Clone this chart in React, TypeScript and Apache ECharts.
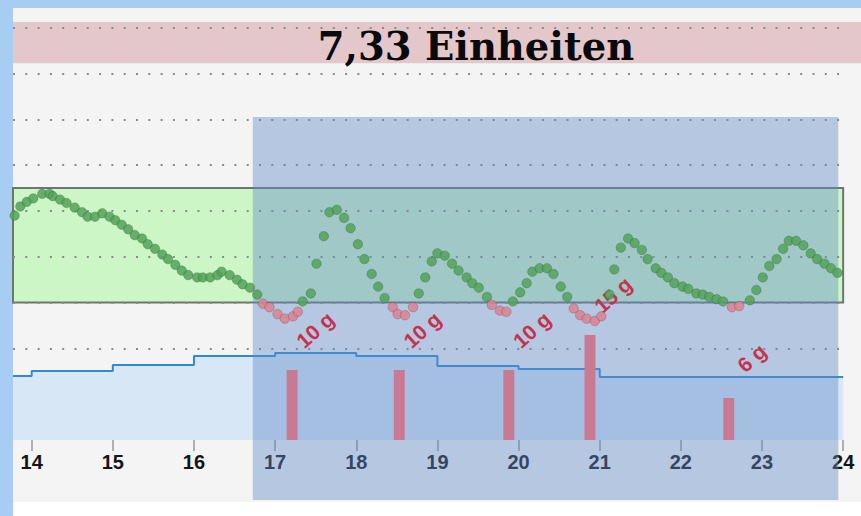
import React, { useEffect, useRef } from "react";
import * as echarts from "echarts";

const TITLE = "7,33 Einheiten";
const HOUR_TICKS = [14, 15, 16, 17, 18, 19, 20, 21, 22, 23, 24];
const X_MIN = 13.77;
const X_MAX = 24.22;
const X_END = 24;

// glucose (mg/dL-like units, 40 per dotted grid line)
const GLUCOSE_TIMES = [
  13.79, 13.86, 13.94, 14.02, 14.13, 14.22, 14.26, 14.35, 14.43, 14.53, 14.62, 14.69, 14.78, 14.87, 14.96,
  15.03, 15.11, 15.19, 15.27, 15.36, 15.43, 15.52, 15.61, 15.68, 15.77, 15.85, 15.93,
  16.04, 16.11, 16.2, 16.29, 16.34, 16.44, 16.53, 16.6, 16.69, 16.78, 16.85, 16.93,
  17.03, 17.12, 17.22, 17.28, 17.34, 17.44, 17.51, 17.6, 17.67, 17.76, 17.85, 17.93,
  18.02, 18.1, 18.19, 18.27, 18.35, 18.45, 18.51, 18.6, 18.7, 18.77, 18.85, 18.93,
  19.0, 19.09, 19.18, 19.26, 19.36, 19.43, 19.51, 19.61, 19.67, 19.77, 19.85, 19.93,
  20.02, 20.1, 20.17, 20.26, 20.35, 20.43, 20.52, 20.6, 20.68, 20.76, 20.84, 20.94,
  21.02, 21.12, 21.18, 21.26, 21.35, 21.43, 21.52, 21.59, 21.69, 21.76, 21.84, 21.92,
  22.02, 22.09, 22.19, 22.27, 22.35, 22.44, 22.52, 22.63, 22.72, 22.85, 22.93,
  23.01, 23.09, 23.18, 23.26, 23.33, 23.42, 23.51, 23.6, 23.68, 23.77, 23.85, 23.93,
];
const GLUCOSE_VALUES = [
  196, 204, 208, 211, 215, 215, 213, 210, 207, 203, 199, 195, 195, 198, 195,
  192, 188, 184, 179, 176, 171, 167, 162, 158, 153, 148, 144,
  142, 142, 142, 144, 147, 144, 140, 136, 133, 127, 119, 116,
  110, 106, 108, 112, 121, 128, 154, 178, 199, 201, 194, 185,
  171, 158, 145, 134, 124, 116, 110, 109, 116, 128, 142, 156,
  163, 161, 154, 148, 142, 137, 133, 125, 118, 113, 112, 121,
  129, 137, 147, 150, 150, 145, 134, 125, 115, 109, 106, 104,
  108, 127, 149, 168, 176, 172, 166, 158, 150, 146, 142, 137,
  134, 132, 128, 127, 125, 123, 121, 116, 117, 122, 131,
  142, 152, 158, 167, 174, 174, 170, 163, 158, 154, 150, 146,
];
const LOW_LIMIT = 120;
const HIGH_LIMIT = 220;
const HIGH_BAND = [329, 365];
const GRID_LEVELS = [40, 80, 120, 160, 200, 240, 280, 320, 360];

// carbs
const CARB_TIMES = [17.21, 18.53, 19.88, 20.88, 22.59];
const CARB_GRAMS = [10, 10, 10, 15, 6];

// basal rate (U/h)
const BASAL_TIMES = [13.77, 14, 15, 16, 17, 18, 19, 20, 21, 24];
const BASAL_RATES = [0.64, 0.69, 0.75, 0.84, 0.87, 0.84, 0.74, 0.71, 0.63, 0.63];

// highlighted period
const SELECTION_START = 16.725;
const SELECTION_END = 23.94;
const SELECTION_TOP = 282;
const SELECTION_BOTTOM = -52.4;

export default function App() {
  const ref = useRef<HTMLDivElement>(null);

  useEffect(() => {
    document.body.style.margin = "0";
    if (!ref.current) return;
    const chart = echarts.init(ref.current, null, { renderer: "svg" });

    const glucoseData = GLUCOSE_TIMES.map((t, i) => [t, GLUCOSE_VALUES[i]]);
    const carbData = CARB_TIMES.map((t, i) => [t, CARB_GRAMS[i]]);
    const basalData = BASAL_TIMES.map((t, i) => [t, BASAL_RATES[i]]);

    const option: any = {
      animation: false,
      backgroundColor: "#ffffff",
      graphic: [
        { type: "rect", shape: { x: 0, y: 0, width: 861, height: 8 }, style: { fill: "#a8cdf3" }, silent: true },
        { type: "rect", shape: { x: 0, y: 0, width: 13, height: 516 }, style: { fill: "#a8cdf3" }, silent: true },
        {
          type: "text",
          x: 476,
          y: 46,
          z: 20,
          silent: true,
          style: {
            text: TITLE,
            textAlign: "center",
            textVerticalAlign: "middle",
            fill: "#0a0a0a",
            font: 'bold 38.5px "DejaVu Serif"',
          },
        },
      ],
      grid: {
        left: 13,
        top: 8,
        right: 0,
        bottom: 14,
        show: true,
        backgroundColor: "#f4f4f4",
        borderWidth: 0,
        containLabel: false,
        outerBoundsMode: "none",
      },
      xAxis: {
        type: "value",
        min: X_MIN,
        max: X_MAX,
        position: "bottom",
        offset: -62,
        axisLine: { show: false, onZero: false },
        axisTick: {
          show: true,
          customValues: HOUR_TICKS,
          length: 11,
          lineStyle: { color: "#9a9a9a", width: 1.5 },
        },
        axisLabel: {
          customValues: HOUR_TICKS,
          margin: 12,
          fontSize: 20,
          fontWeight: "bold",
          color: "#151515",
          fontFamily: "Liberation Sans",
        },
        splitLine: { show: false },
      },
      yAxis: [
        { type: "value", min: -54.15, max: 377.3, show: false, splitLine: { show: false } },
        { type: "value", min: -8.857, max: 61.71, show: false, splitLine: { show: false } },
        { type: "value", min: -0.62, max: 4.32, show: false, splitLine: { show: false } },
      ],
      series: [
        {
          name: "bands",
          type: "scatter",
          data: [],
          z: 1,
          silent: true,
          markArea: {
            z: 1,
            silent: true,
            data: [
              [
                { coord: [X_MIN, HIGH_BAND[0]], itemStyle: { color: "#e3c7ca" } },
                { coord: [X_MAX, HIGH_BAND[1]] },
              ],
              [
                {
                  coord: [X_MIN, LOW_LIMIT],
                  itemStyle: { color: "#cdf6c6", borderColor: "#6e776e", borderWidth: 2 },
                },
                { coord: [X_END, HIGH_LIMIT] },
              ],
            ],
          },
        },
        {
          name: "gridlines",
          type: "scatter",
          data: [],
          z: 3,
          silent: true,
          markLine: {
            z: 3,
            silent: true,
            symbol: ["none", "none"],
            label: { show: false },
            lineStyle: { color: "#8a8a8a", width: 2, type: [2, 10.3], opacity: 1 },
            emphasis: { disabled: true },
            data: GRID_LEVELS.map((v) => [{ coord: [X_MIN, v] }, { coord: [X_END, v] }]),
          },
        },
        {
          name: "basal",
          type: "line",
          yAxisIndex: 2,
          step: "end",
          data: basalData,
          z: 4,
          symbol: "none",
          silent: true,
          lineStyle: { color: "#2e8ad2", width: 2 },
          areaStyle: { color: "#d7e7f6", opacity: 1 },
        },
        {
          name: "selection",
          type: "scatter",
          data: [],
          z: 10,
          silent: true,
          markArea: {
            z: 10,
            silent: true,
            itemStyle: { color: "rgba(95,135,200,0.42)" },
            data: [
              [
                { coord: [SELECTION_START, SELECTION_TOP] },
                { coord: [SELECTION_END, SELECTION_BOTTOM] },
              ],
            ],
          },
        },
        {
          name: "glucose",
          type: "scatter",
          data: glucoseData,
          z: 12,
          symbolSize: 9.5,
          silent: true,
          itemStyle: {
            color: (p: any) => (p.value[1] < LOW_LIMIT ? "#e07f93" : "#52a25a"),
            borderColor: "rgba(40,70,40,0.3)",
            borderWidth: 1,
            opacity: 0.85,
          },
        },
        {
          name: "carbs",
          type: "bar",
          yAxisIndex: 1,
          data: carbData,
          barWidth: 11,
          z: 11,
          silent: true,
          itemStyle: { color: "#c97a93" },
          label: {
            show: true,
            position: [28.5, -40],
            rotate: 42,
            align: "center",
            verticalAlign: "middle",
            formatter: (p: any) => p.value[1] + " g",
            color: "#c4334d",
            fontSize: 21,
            fontWeight: "bold",
            fontFamily: "Liberation Sans",
          },
        },
      ],
    };

    chart.setOption(option);
    return () => chart.dispose();
  }, []);

  return <div ref={ref} style={{ width: 861, height: 516 }} />;
}
